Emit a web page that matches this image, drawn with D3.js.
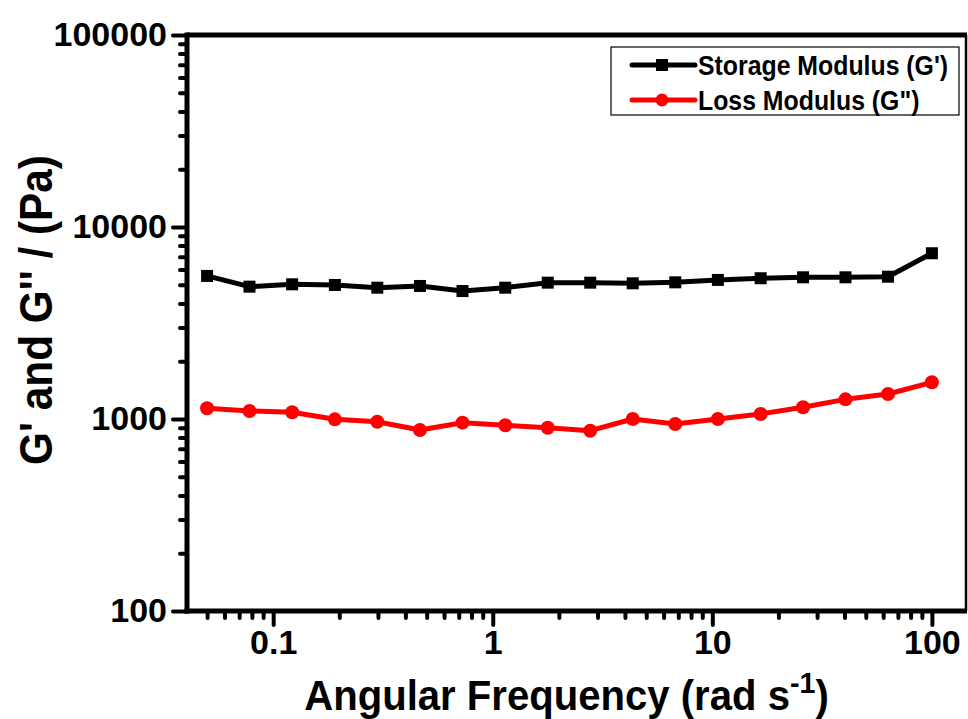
<!DOCTYPE html>
<html>
<head>
<meta charset="utf-8">
<script src="https://cdn.jsdelivr.net/npm/d3@7"></script>
<style>
  html, body { margin: 0; padding: 0; background: #fff; }
  text { font-family: "Liberation Sans", Arial, Helvetica, sans-serif; font-weight: bold; }
</style>
</head>
<body>
<svg id="chart" width="968" height="719"></svg>
<script>
// ---- data ----
const frequency = [0.05, 0.078, 0.122, 0.191, 0.298, 0.466, 0.728, 1.14, 1.78, 2.78, 4.34, 6.78, 10.6, 16.6, 25.9, 40.4, 63.1, 100];
const storageModulus = [5560, 4890, 5030, 4990, 4830, 4930, 4640, 4830, 5130, 5130, 5090, 5150, 5300, 5410, 5470, 5470, 5510, 7300];
const lossModulus = [1137, 1101, 1084, 996, 968, 876, 957, 927, 901, 869, 1000, 942, 1000, 1062, 1151, 1266, 1349, 1553];
const xMajorTicks = [0.1, 1, 10, 100];
const xTickLabels = ["0.1", "1", "10", "100"];
const xMinorTicks = [0.05, 0.06, 0.07, 0.08, 0.09, 0.2, 0.3, 0.4, 0.5, 0.6, 0.7, 0.8, 0.9, 2, 3, 4, 5, 6, 7, 8, 9, 20, 30, 40, 50, 60, 70, 80, 90];
const yMajorTicks = [100, 1000, 10000, 100000];
const yTickLabels = ["100", "1000", "10000", "100000"];
const yMinorTicks = [200, 300, 400, 500, 600, 700, 800, 900, 2000, 3000, 4000, 5000, 6000, 7000, 8000, 9000, 20000, 30000, 40000, 50000, 60000, 70000, 80000, 90000];
const seriesNames = ["Storage Modulus (G')", "Loss Modulus (G\")"];
const seriesColors = ["#000000", "#ff0000"];
const xTitle = "Angular Frequency (rad s";
const xTitleSup = "-1";
const yTitle = "G' and G'' / (Pa)";

(function () {
// ---- layout ----
const svg = d3.select("#chart");
const pL = 187, pR = 966, pT = 35, pB = 611;

const x = d3.scaleLog().domain([0.0405, 143]).range([pL, pR]);
const y = d3.scaleLog().domain([100, 100000]).range([pB, pT]);

function styleAxis(g, w) {
  g.select(".domain").remove();
  g.selectAll(".tick line").attr("stroke", "#000").attr("stroke-width", w).attr("stroke-linecap", "round");
}

const xMinor = svg.append("g").attr("transform", `translate(0,${pB})`)
  .call(d3.axisBottom(x).tickValues(xMinorTicks).tickSize(7).tickFormat(""));
styleAxis(xMinor, 4);
const xMajor = svg.append("g").attr("transform", `translate(0,${pB})`)
  .call(d3.axisBottom(x).tickValues(xMajorTicks).tickSize(14).tickPadding(5)
    .tickFormat((d, i) => xTickLabels[i]));
styleAxis(xMajor, 4);
xMajor.selectAll(".tick text").attr("font-size", 34).attr("fill", "#000")
  .attr("font-family", "Liberation Sans, Arial, sans-serif").attr("font-weight", "bold");

const yMinor = svg.append("g").attr("transform", `translate(${pL},0)`)
  .call(d3.axisLeft(y).tickValues(yMinorTicks).tickSize(7).tickFormat(""));
styleAxis(yMinor, 4);
const yMajor = svg.append("g").attr("transform", `translate(${pL},0)`)
  .call(d3.axisLeft(y).tickValues(yMajorTicks).tickSize(14).tickPadding(6)
    .tickFormat((d, i) => yTickLabels[i]));
styleAxis(yMajor, 4);
yMajor.selectAll(".tick text").attr("font-size", 34).attr("fill", "#000")
  .attr("font-family", "Liberation Sans, Arial, sans-serif").attr("font-weight", "bold");

// frame
svg.append("line").attr("x1", pR).attr("x2", pR).attr("y1", pT).attr("y2", pB)
  .attr("stroke", "#000").attr("stroke-width", 2.5);
svg.append("line").attr("x1", pL).attr("x2", pR + 1).attr("y1", pT).attr("y2", pT)
  .attr("stroke", "#000").attr("stroke-width", 5);
svg.append("line").attr("x1", pL).attr("x2", pL).attr("y1", pT - 2.5).attr("y2", pB + 2.5)
  .attr("stroke", "#000").attr("stroke-width", 5);
svg.append("line").attr("x1", pL - 2.5).attr("x2", pR + 1).attr("y1", pB).attr("y2", pB)
  .attr("stroke", "#000").attr("stroke-width", 5);

// series
const series = [storageModulus, lossModulus];
const line = d3.line().x(d => x(d[0])).y(d => y(d[1]));
series.forEach((vals, si) => {
  const pts = frequency.map((f, i) => [f, vals[i]]);
  svg.append("path").datum(pts).attr("d", line)
    .attr("fill", "none").attr("stroke", seriesColors[si]).attr("stroke-width", 5)
    .attr("stroke-linejoin", "round");
  if (si === 0) {
    svg.selectAll(null).data(pts).enter().append("rect")
      .attr("x", d => x(d[0]) - 6).attr("y", d => y(d[1]) - 6)
      .attr("width", 12).attr("height", 12).attr("fill", seriesColors[si]);
  } else {
    svg.selectAll(null).data(pts).enter().append("circle")
      .attr("cx", d => x(d[0])).attr("cy", d => y(d[1])).attr("r", 7)
      .attr("fill", seriesColors[si]);
  }
});

// legend
const lg = svg.append("g").attr("transform", "translate(611,47)");
lg.append("rect").attr("x", 0).attr("y", 0).attr("width", 348).attr("height", 68)
  .attr("fill", "#fff").attr("stroke", "#000").attr("stroke-width", 1.2);
seriesNames.forEach((name, i) => {
  const cy = 18 + i * 35;
  lg.append("line").attr("x1", 21).attr("x2", 84).attr("y1", cy).attr("y2", cy)
    .attr("stroke", seriesColors[i]).attr("stroke-width", 5).attr("stroke-linecap", "round");
  if (i === 0) {
    lg.append("rect").attr("x", 45).attr("y", cy - 6).attr("width", 12).attr("height", 12).attr("fill", seriesColors[i]);
  } else {
    lg.append("circle").attr("cx", 51).attr("cy", cy).attr("r", 6.5).attr("fill", seriesColors[i]);
  }
  lg.append("text").attr("transform", `translate(87,${cy}) scale(0.92,1)`).attr("dy", "0.36em")
    .attr("font-size", 27).attr("fill", "#000").text(name);
});

// axis titles
const xt = svg.append("text").attr("transform", `translate(${(pL + pR) / 2 - 10},710) scale(0.955,1)`)
  .attr("text-anchor", "middle").attr("font-size", 42).attr("fill", "#000");
xt.append("tspan").text(xTitle);
xt.append("tspan").attr("dy", -17).attr("font-size", 30).text(xTitleSup);
xt.append("tspan").attr("dy", 17).text(")");

svg.append("text").attr("transform", `translate(52,310) rotate(-90) scale(0.92,1)`)
  .attr("text-anchor", "middle").attr("font-size", 46).attr("fill", "#000").text(yTitle);
})();
</script>
</body>
</html>
